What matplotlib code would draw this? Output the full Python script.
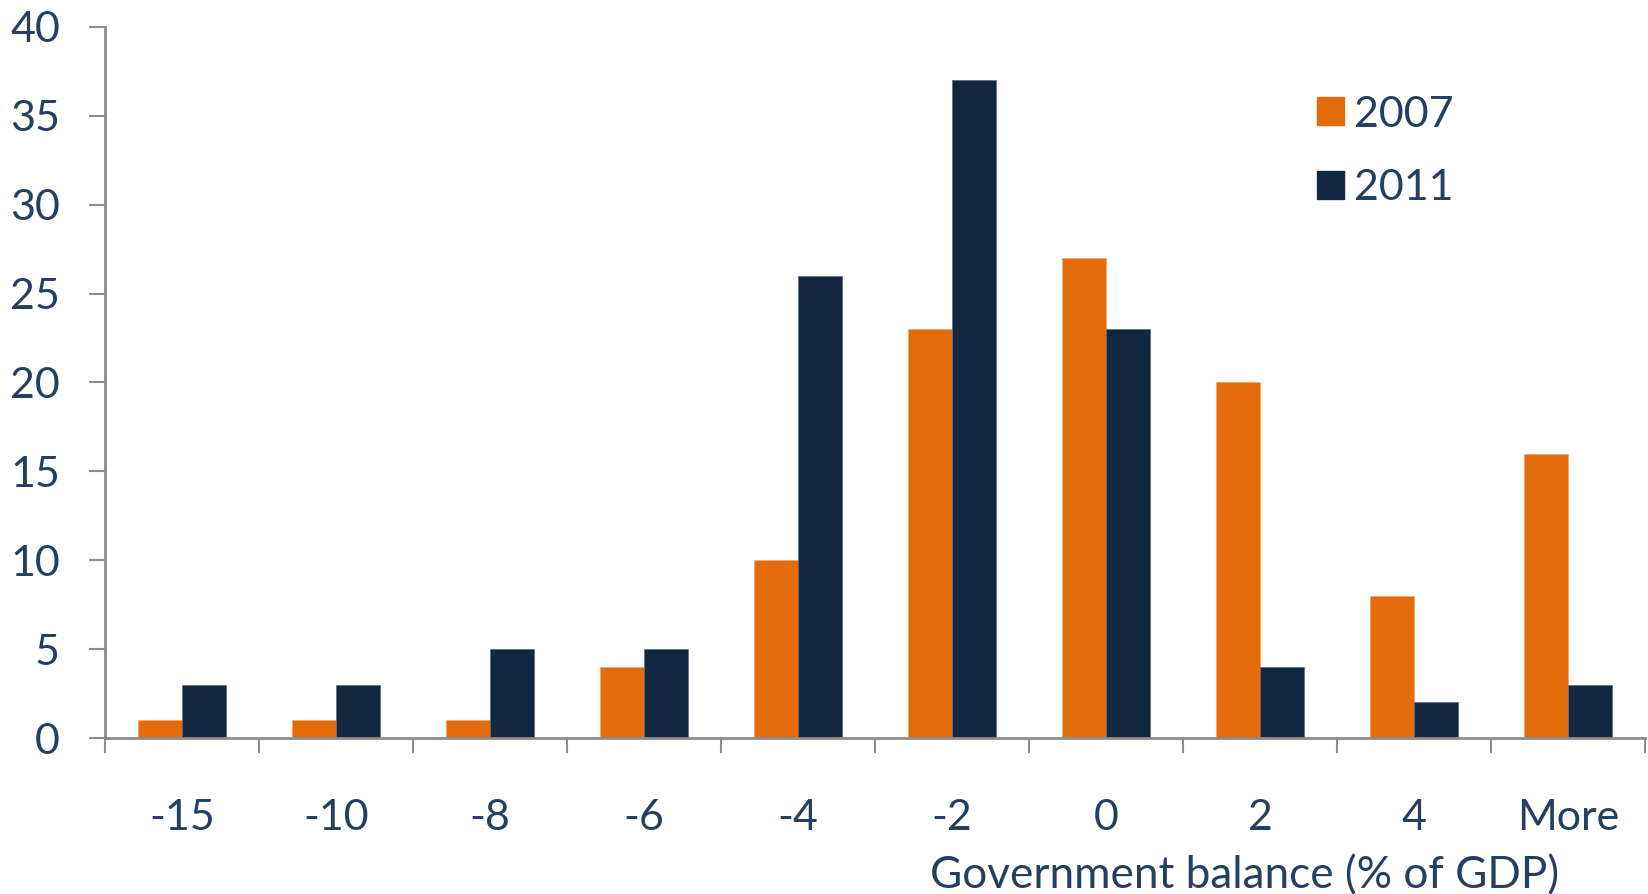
import matplotlib
matplotlib.use("Agg")
import matplotlib.pyplot as plt
import numpy as np
from matplotlib.patches import Patch

categories = ["-15", "-10", "-8", "-6", "-4", "-2", "0", "2", "4", "More"]
v2007 = [1, 1, 1, 4, 10, 23, 27, 20, 8, 16]
v2011 = [3, 3, 5, 5, 26, 37, 23, 4, 2, 3]
yticks = [0, 5, 10, 15, 20, 25, 30, 35, 40]

ORANGE = "#E36C0A"
NAVY = "#12263F"
TXT = "#243F60"
GRAY = "#8C8C8C"

plt.rcParams['font.family'] = ['Lato', 'DejaVu Sans']

W, H = 1648, 894
fig = plt.figure(figsize=(W/100, H/100), dpi=100)
ax = fig.add_axes([105/W, (H-738)/H, (1645-105)/W, (738-27)/H])

x = np.arange(len(categories))
bw = 1/3.5
ax.bar(x - bw/2, v2007, bw, color=ORANGE, label="2007", edgecolor="#F0A070", linewidth=0.5)
ax.bar(x + bw/2, v2011, bw, color=NAVY, label="2011", edgecolor="#5A6A80", linewidth=0.5)

ax.set_xlim(-0.5, len(categories) - 0.5)
ax.set_ylim(0, 40)
ax.set_yticks(yticks)
ax.set_yticklabels([str(t) for t in yticks])

ax.set_xticks(x)
ax.set_xticklabels(categories)
ax.set_xticks(np.arange(len(categories) + 1) - 0.5, minor=True)

for s in ["top", "right"]:
    ax.spines[s].set_visible(False)
for s in ["left", "bottom"]:
    ax.spines[s].set_color(GRAY)
    ax.spines[s].set_linewidth(2)

ax.tick_params(axis='y', which='major', length=11.5, width=1.5, color=GRAY,
               labelsize=31, labelcolor=TXT, pad=21)
ax.tick_params(axis='x', which='major', length=0, labelsize=31, labelcolor=TXT, pad=44)
ax.tick_params(axis='x', which='minor', length=11, width=1.5, color=GRAY)

fig.text(1245/W, 1-876/H, "Government balance (% of GDP)", ha='center', va='center',
         fontsize=31.8, color=TXT)

handles = [Patch(color=ORANGE, label="2007"), Patch(color=NAVY, label="2011")]
leg = ax.legend(handles=handles, loc='upper left', bbox_to_anchor=(1295/W, 1-74/H),
                bbox_transform=fig.transFigure, frameon=False, fontsize=31,
                handlelength=0.63, handleheight=0.63, handletextpad=0.25,
                labelspacing=0.82, borderpad=0)
for t in leg.get_texts():
    t.set_color(TXT)

fig.savefig("out.png", dpi=100)
